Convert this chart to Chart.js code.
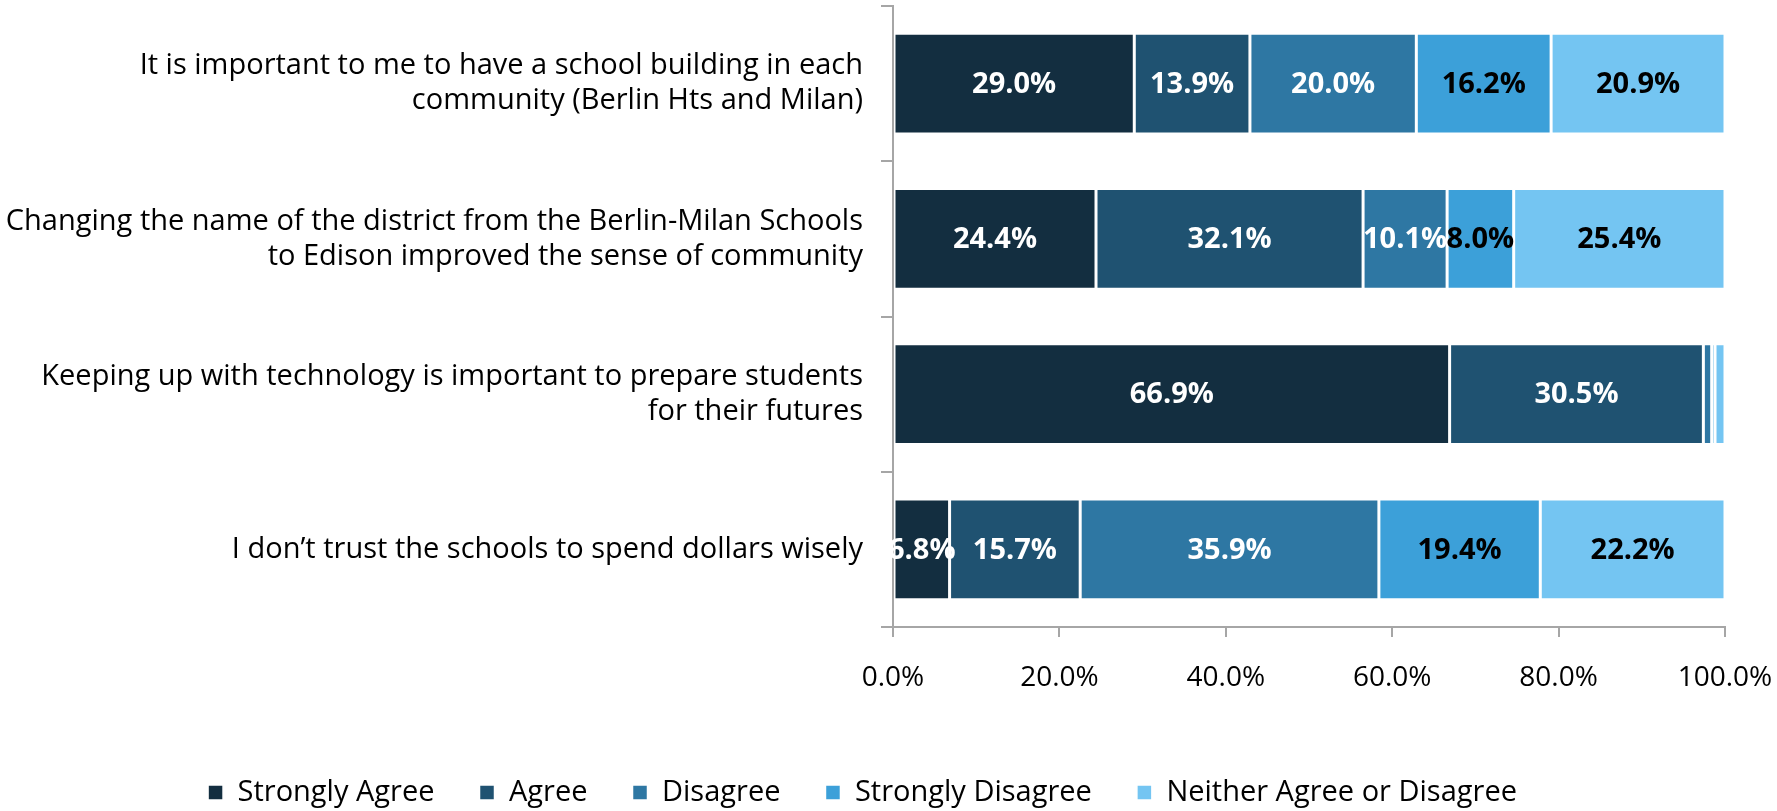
<!DOCTYPE html>
<html>
<head>
<meta charset="utf-8">
<script src="https://cdn.jsdelivr.net/npm/chart.js@4.4.0/dist/chart.umd.min.js"></script>
<style>
  html, body { margin: 0; padding: 0; background: #fff; }
  #wrap { width: 1777px; height: 811px; }
</style>
</head>
<body>
<div id="wrap"><canvas id="surveyCanvas" width="1777" height="811"></canvas></div>
<script>
// statements (y categories)
const statements = [
    ['It is important to me to have a school building in each', 'community (Berlin Hts and Milan)'],
    ['Changing the name of the district from the Berlin-Milan Schools', 'to Edison improved the sense of community'],
    ['Keeping up with technology is important to prepare students', 'for their futures'],
    ['I don\u2019t trust the schools to spend dollars wisely']
];

// percent per response, one value per statement
const stronglyAgree    = [29.0, 24.4, 66.9, 6.8];
const agree            = [13.9, 32.1, 30.5, 15.7];
const disagree         = [20.0, 10.1, 1.0, 35.9];
const stronglyDisagree = [16.2, 8.0, 0.4, 19.4];
const neither          = [20.9, 25.4, 1.2, 22.2];

const xTicks = [0, 20, 40, 60, 80, 100];

const font = 'Open Sans';

// draws the percent inside each segment
const segmentLabels = {
    id: 'segmentLabels',
    afterDatasetsDraw(chart) {
        const ctx = chart.ctx;
        ctx.save();
        ctx.font = 'bold 29px "' + font + '"';
        ctx.textAlign = 'center';
        ctx.textBaseline = 'middle';
        chart.data.datasets.forEach((ds, i) => {
            const meta = chart.getDatasetMeta(i);
            meta.data.forEach((bar, j) => {
                const v = ds.data[j];
                if (v < 3) return;
                const mid = (bar.x + bar.base) / 2;
                ctx.fillStyle = ds.labelColor;
                ctx.fillText(v.toFixed(1) + '%', mid, bar.y + 1);
            });
        });
        ctx.restore();
    }
};

const chartdata = {
    labels: statements,
    datasets: [
        { label: 'Strongly Agree', data: stronglyAgree, backgroundColor: '#132e40', labelColor: '#ffffff' },
        { label: 'Agree', data: agree, backgroundColor: '#1f5271', labelColor: '#ffffff' },
        { label: 'Disagree', data: disagree, backgroundColor: '#2e77a3', labelColor: '#ffffff' },
        { label: 'Strongly Disagree', data: stronglyDisagree, backgroundColor: '#3ca0d9', labelColor: '#000000' },
        { label: 'Neither Agree or Disagree', data: neither, backgroundColor: '#74c5f2', labelColor: '#000000' }
    ]
};

chartdata.datasets.forEach(ds => {
    ds.borderColor = '#ffffff';
    ds.borderWidth = 1.5;
    ds.borderSkipped = false;
    ds.barPercentage = 0.65;
    ds.categoryPercentage = 1.0;
});

new Chart(document.getElementById('surveyCanvas'), {
    type: 'bar',
    data: chartdata,
    plugins: [segmentLabels],
    options: {
        indexAxis: 'y',
        responsive: false,
        animation: false,
        layout: { padding: { top: 6, right: 52, left: 0, bottom: -6 } },
        plugins: {
            tooltip: { enabled: false },
            legend: {
                position: 'bottom',
                labels: {
                    font: { family: font, size: 29 },
                    color: '#000',
                    boxWidth: 15,
                    boxHeight: 15,
                    padding: 45
                }
            }
        },
        scales: {
            x: {
                stacked: true,
                min: 0,
                max: 100,
                afterBuildTicks: (scale) => { scale.ticks = xTicks.map(v => ({ value: v })); },
                afterFit: (scale) => {
                    scale.height = 106;
                    scale.paddingLeft = 0;
                    scale.paddingRight = 0;
                },
                grid: { drawOnChartArea: false, tickLength: 10, color: '#a6a6a6', lineWidth: 2 },
                border: { color: '#a6a6a6', width: 2 },
                ticks: {
                    font: { family: font, size: 28 },
                    color: '#000',
                    padding: 24,
                    maxRotation: 0,
                    callback: (v) => v.toFixed(1) + '%'
                }
            },
            y: {
                stacked: true,
                afterFit: (scale) => {
                    scale.width = 893;
                    scale.paddingTop = 0;
                    scale.paddingBottom = 0;
                },
                grid: { drawOnChartArea: false, offset: true, tickLength: 12, color: '#a6a6a6', lineWidth: 2 },
                border: { color: '#a6a6a6', width: 2 },
                ticks: {
                    font: { family: font, size: 29, lineHeight: 1.2 },
                    color: '#000',
                    padding: 18
                }
            }
        }
    }
});
</script>
</body>
</html>
